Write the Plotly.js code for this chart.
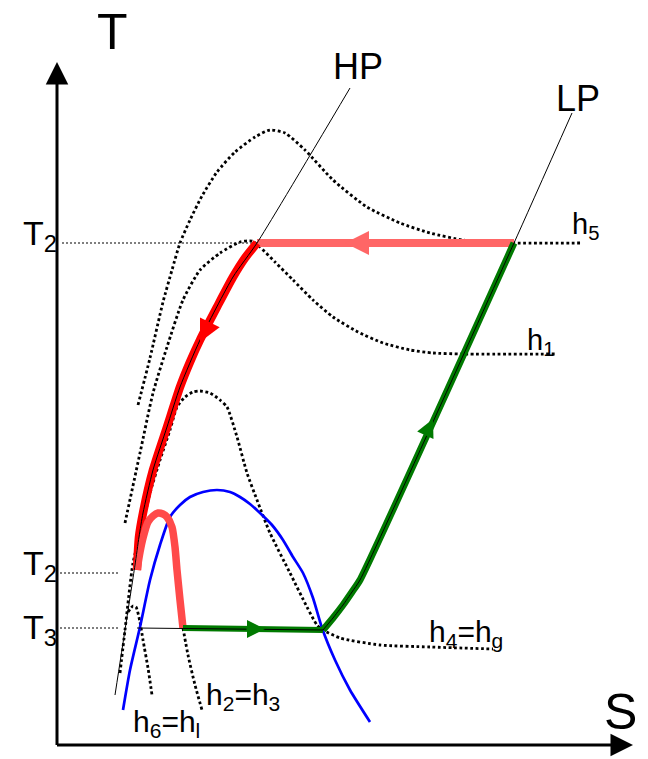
<!DOCTYPE html>
<html>
<head>
<meta charset="utf-8">
<script src="https://cdn.plot.ly/plotly-3.0.1.min.js"></script>
<style>html,body{margin:0;padding:0;background:#fff;}#chart{width:648px;height:759px;}</style>
</head>
<body>
<div id="chart"></div>
<script>
// Schematic T-S diagram; coordinates in picture units (S to the right, T downward scale reversed)
const satDomeS = [123,130,140,150,160,170,180,190,203,217,230,240,250,260,272,283,293,303,313,322,335,350,370];
const satDomeT = [710,670,627,580,545,517,505,497,492,490,492,497,504,513,525,540,557,573,598,628,660,690,722];

const h5S = [138,150,163,172,180,190,202,217,235,255,270,285,305,333,367,400,430,463,490,514,582];
const h5T = [405,358,302,270,243,220,196,172,152,137,130,133,150,180,207,223,233,240,242,243,243];

const h1S = [125,140,153,167,183,200,220,240,252,260,275,293,313,333,358,383,410,433,463,555];
const h1T = [523,453,393,347,300,270,253,242,241,247,262,280,300,317,332,343,350,353,354,354];

const h4S = [120,125,133,142,150,160,170,177,185,193,200,210,220,227,237,247,257,270,290,307,317,323,340,380,430,493];
const h4T = [673,630,563,527,493,460,430,407,397,392,391,393,400,407,437,473,500,533,573,607,625,630,638,645,647,649];

const h6S = [128,133,136,140,143,148,152];
const h6T = [612,606,607,622,640,668,695];

const h23S = [183,188,195,202];
const h23T = [628,655,685,710];

const hpLineS = [115,125,135,139,143,153,167,180,200,233,257,350];
const hpLineT = [695,630,565,537,513,470,427,387,340,277,243,88];

const lpLineS = [323,333,343,352,360,514,572];
const lpLineT = [630,618,605,592,580,243,113];

const t3LineS = [137,323];
const t3LineT = [628,630];

const condS = [257,514];          // light red, 5 -> HP
const condT = [243,243];

const hpCurveS = [257,245,233,217,200,190,180,167,153,143,139,137];
const hpCurveT = [243,258,277,307,340,362,387,427,470,513,537,570];

const humpS = [137,140,143,148,153,158,163,167,172,175,177,180,183];
const humpT = [570,552,538,522,516,513,514,517,527,547,570,600,628];

const evapS = [183,323];
const evapT = [628,630];

const compS = [323,333,343,352,360,514];
const compT = [630,618,605,592,580,243];

const guideT2aS = [62,257], guideT2aT = [243,243];
const guideT2bS = [60,120], guideT2bT = [573,573];
const guideT3S = [60,120],  guideT3T = [628,628];

const axisOrigin = [57,745];
const axisTTip = [57,62];
const axisSTip = [633,745];

const FONT = 'Liberation Sans, Arial, sans-serif';
const DOT = '2.8px,2.6px';

function line(x,y,color,width,dash){
  return {type:'scatter',mode:'lines',x:x,y:y,hoverinfo:'skip',showlegend:false,
          line:{color:color,width:width,dash:dash||'solid',shape:'spline',smoothing:0.6}};
}
function straight(x,y,color,width,dash){
  return {type:'scatter',mode:'lines',x:x,y:y,hoverinfo:'skip',showlegend:false,
          line:{color:color,width:width,dash:dash||'solid'}};
}

const traces = [
  straight(guideT2aS,guideT2aT,'#555',1.4,'2px,2px'),
  straight(guideT2bS,guideT2bT,'#555',1.4,'2px,2px'),
  straight(guideT3S,guideT3T,'#555',1.4,'2px,2px'),
  line(h5S,h5T,'#000',2.8,DOT),
  line(h1S,h1T,'#000',2.8,DOT),
  line(h4S,h4T,'#000',2.8,DOT),
  line(h6S,h6T,'#000',2.8,DOT),
  line(h23S,h23T,'#000',2.8,DOT),
  line(satDomeS,satDomeT,'#0000ff',2.7),
  straight(condS,condT,'#ff6666',8),
  line(hpCurveS,hpCurveT,'#ff0000',8.5),
  line(humpS,humpT,'#ff4a4a',7.5),
  straight(evapS,evapT,'#007a00',6),
  {type:'scatter',mode:'lines',x:compS,y:compT,hoverinfo:'skip',showlegend:false,
   line:{color:'#007a00',width:7,shape:'spline',smoothing:0.5}},
  line(hpLineS,hpLineT,'#000',1),
  {type:'scatter',mode:'lines',x:lpLineS,y:lpLineT,hoverinfo:'skip',showlegend:false,
   line:{color:'#000',width:1,shape:'spline',smoothing:0.5}},
  straight(t3LineS,t3LineT,'#000',1)
];

function flowArrow(tip,tail,color,size){
  return {x:tip[0],y:tip[1],ax:tail[0],ay:tail[1],xref:'x',yref:'y',axref:'x',ayref:'y',
          text:'',showarrow:true,arrowhead:2,arrowsize:size,arrowwidth:2,arrowcolor:color};
}
function label(x,y,text,size){
  return {x:x,y:y,xref:'x',yref:'y',text:text,showarrow:false,
          font:{family:FONT,size:size,color:'#000'},xanchor:'center',yanchor:'middle'};
}

const annotations = [
  {x:axisTTip[0],y:axisTTip[1],ax:axisOrigin[0],ay:axisOrigin[1]+1.5,xref:'x',yref:'y',axref:'x',ayref:'y',
   text:'',showarrow:true,arrowhead:2,arrowsize:1.5,arrowwidth:3,arrowcolor:'#000'},
  {x:axisSTip[0],y:axisSTip[1],ax:axisOrigin[0]-1.5,ay:axisOrigin[1],xref:'x',yref:'y',axref:'x',ayref:'y',
   text:'',showarrow:true,arrowhead:2,arrowsize:1.5,arrowwidth:3,arrowcolor:'#000'},
  flowArrow([345,243],[365,243],'#ff6666',2.4),
  flowArrow([200,342],[210,322],'#ff0000',2.2),
  flowArrow([265,629],[245,629],'#007a00',1.8),
  flowArrow([433,419],[425,436],'#007a00',1.8),
  label(112,32,'T',50),
  label(620,712,'S',50),
  label(358,66,'HP',36),
  label(578,98,'LP',36),
  label(40,235,'T<sub>2</sub>',34),
  label(40,565,'T<sub>2</sub>',34),
  label(40,629,'T<sub>3</sub>',34),
  label(585,226,'h<sub>5</sub>',29),
  label(540,342,'h<sub>1</sub>',29),
  label(466,633,'h<sub>4</sub>=h<sub>g</sub>',30),
  label(243,696,'h<sub>2</sub>=h<sub>3</sub>',30),
  label(166,723,'h<sub>6</sub>=h<sub>l</sub>',30)
];

const layout = {
  width:648,height:759,
  margin:{l:0,r:0,t:0,b:0,pad:0},
  paper_bgcolor:'#fff',plot_bgcolor:'#fff',
  xaxis:{range:[0,648],visible:false,fixedrange:true},
  yaxis:{range:[759,0],visible:false,fixedrange:true},
  showlegend:false,
  annotations:annotations
};

Plotly.newPlot('chart',traces,layout,{staticPlot:true,displayModeBar:false});
</script>
</body>
</html>
